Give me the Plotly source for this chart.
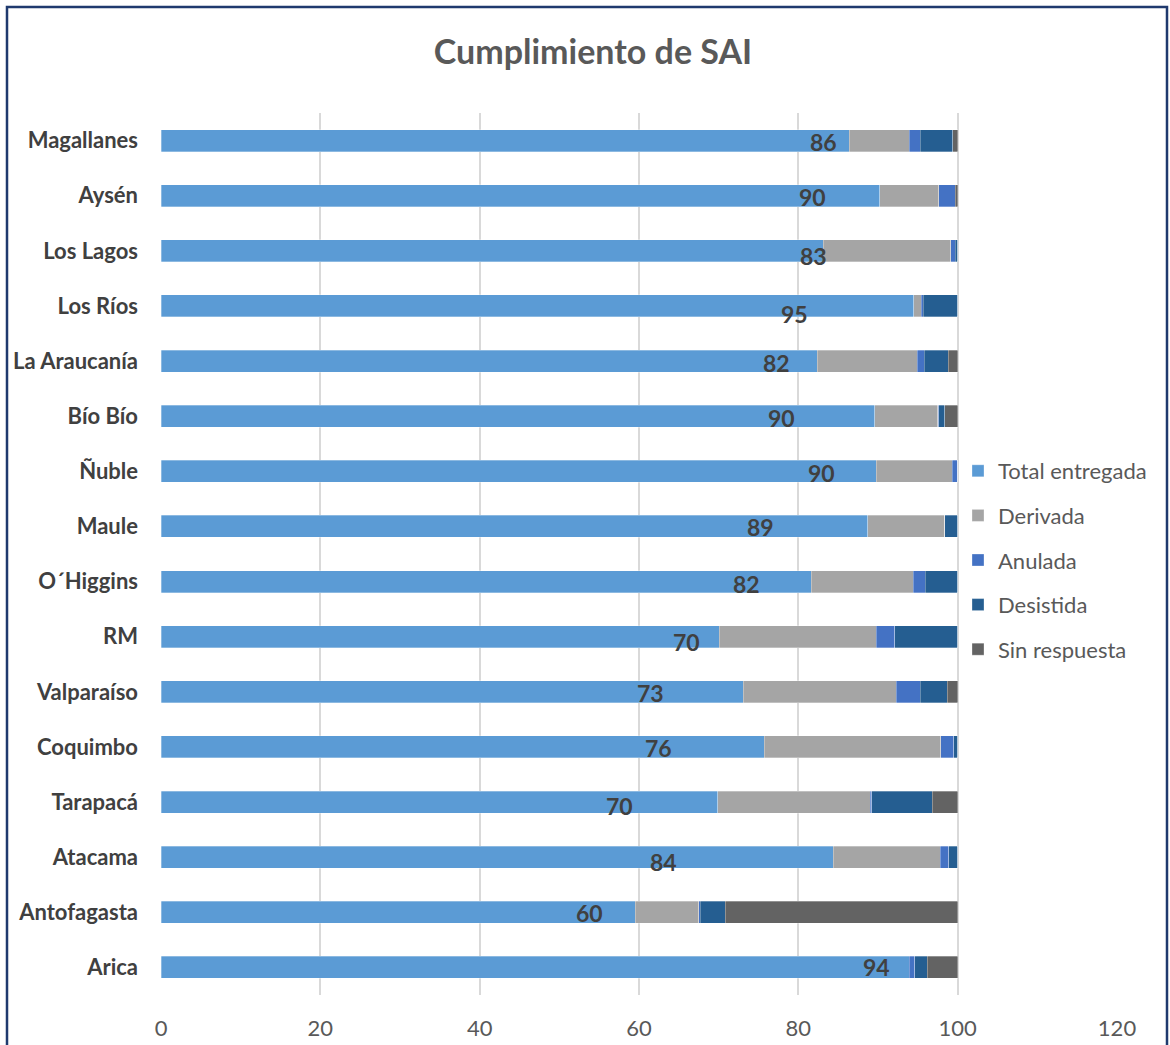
import plotly.graph_objects as go

regions = ["Magallanes", "Aysén", "Los Lagos", "Los Ríos", "La Araucanía", "Bío Bío",
           "Ñuble", "Maule", "O´Higgins", "RM", "Valparaíso", "Coquimbo", "Tarapacá",
           "Atacama", "Antofagasta", "Arica"]

total_entregada = [86.4, 90.2, 83.1, 94.5, 82.4, 89.6, 89.8, 88.7, 81.6, 70.1, 73.1, 75.7, 69.9, 84.4, 59.5, 93.9]
derivada        = [7.5, 7.4, 16.0, 0.9, 12.5, 7.9, 9.5, 9.7, 12.8, 19.7, 19.2, 22.2, 19.1, 13.4, 8.0, 0.0]
anulada         = [1.4, 2.1, 0.6, 0.3, 0.9, 0.1, 0.7, 0.0, 1.5, 2.3, 3.0, 1.6, 0.2, 1.1, 0.2, 0.7]
desistida       = [4.1, 0.0, 0.3, 4.3, 3.0, 0.8, 0.0, 1.6, 4.1, 7.9, 3.4, 0.5, 7.6, 1.1, 3.1, 1.6]
sin_respuesta   = [0.6, 0.3, 0.0, 0.0, 1.2, 1.6, 0.0, 0.0, 0.0, 0.0, 1.3, 0.0, 3.2, 0.0, 29.2, 3.8]

labels = [86, 90, 83, 95, 82, 90, 90, 89, 82, 70, 73, 76, 70, 84, 60, 94]

x_ticks = [0, 20, 40, 60, 80, 100, 120]

# label placement (as in the original, labels were hand positioned)
label_x = [83.1, 81.8, 81.9, 79.5, 77.2, 77.9, 82.9, 75.2, 73.5, 66.0, 61.4, 62.4, 57.5, 63.1, 53.8, 89.8]
label_dy = [1, 1, 5, 8, 2, 2, 2, 1, 2, 5, 1, 1, 4, 5, 1, 0]

series = [
    ("Total entregada", total_entregada, "#5B9BD5"),
    ("Derivada", derivada, "#A5A5A5"),
    ("Anulada", anulada, "#4472C4"),
    ("Desistida", desistida, "#255E91"),
    ("Sin respuesta", sin_respuesta, "#636363"),
]

FONT = "Lato, Open Sans, sans-serif"

fig = go.Figure()
for name, vals, col in series:
    fig.add_trace(go.Bar(
        y=regions, x=vals, name=name, orientation="h",
        marker=dict(color=col, line=dict(color="rgba(255,255,255,0.6)", width=0.5)),
        legendgroup=name, hoverinfo="x+name",
    ))

for reg, lx, lab, dy in zip(regions, label_x, labels, label_dy):
    fig.add_annotation(x=lx, y=reg, text=str(lab), showarrow=False,
                       xanchor="center", yanchor="middle", yshift=-dy,
                       font=dict(family=FONT, size=23, color="#404040", weight="bold"))

L, R, T, B = 161, 53, 113, 50
W, H = 1170, 1045
pw, ph = W - L - R, H - T - B

def px_x(p):
    return (p - L) / pw

def px_y(p):
    return (H - B - p) / ph

fig.add_shape(type="rect", xref="paper", yref="paper",
              x0=px_x(7), x1=px_x(1167), y0=px_y(1052), y1=px_y(7),
              line=dict(color="#1F3A6E", width=2.5), fillcolor="rgba(0,0,0,0)", layer="above")

fig.update_layout(
    width=W, height=H,
    margin=dict(l=L, r=R, t=T, b=B, autoexpand=False),
    barmode="stack", bargap=0.6,
    plot_bgcolor="white", paper_bgcolor="white",
    title=dict(text="<b>Cumplimiento de SAI</b>", x=593 / W, xanchor="center",
               y=1 - 52 / H, yanchor="middle",
               font=dict(family=FONT, size=34, color="#595959")),
    xaxis=dict(range=[0, 120], tickvals=x_ticks, showgrid=True, gridcolor="#D9D9D9", gridwidth=2,
               zeroline=False, showline=False, ticks="", ticklabelstandoff=18, automargin=False,
               tickfont=dict(family=FONT, size=22, color="#595959")),
    yaxis=dict(autorange="reversed", showgrid=False, showline=False, ticks="",
               ticklabelstandoff=22, automargin=False,
               tickfont=dict(family=FONT, size=22, color="#404040", weight="bold")),
    legend=dict(x=px_x(958), y=px_y(450), xanchor="left", yanchor="top",
                bgcolor="rgba(0,0,0,0)", tracegroupgap=13, itemwidth=30,
                font=dict(family=FONT, size=22, color="#595959")),
    showlegend=True,
)

fig.write_html("out.html", config={"displayModeBar": False},
               post_script="document.body.style.margin='0';document.body.style.padding='0';")
